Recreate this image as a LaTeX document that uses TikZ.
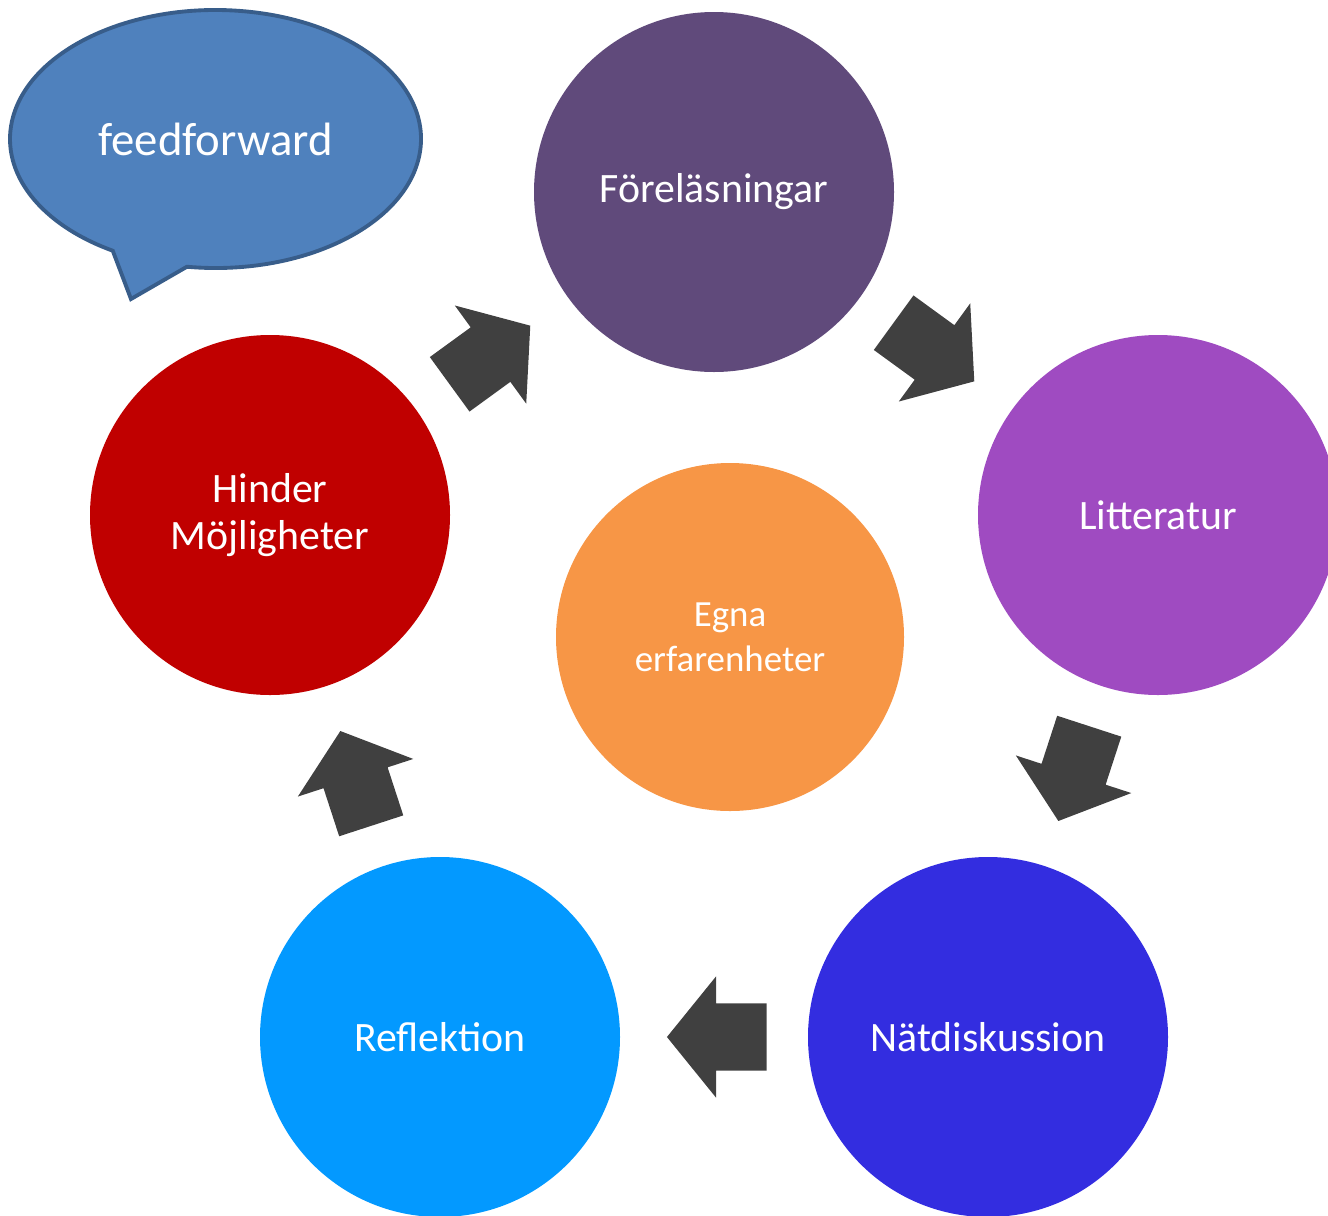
\documentclass[tikz,border=0pt]{standalone}
\usepackage{fontspec}
\setmainfont{Carlito}
\usetikzlibrary{shapes.arrows}

\definecolor{forelColor}{HTML}{604A7B}
\definecolor{littColor}{HTML}{9F4BC1}
\definecolor{natColor}{HTML}{332DE0}
\definecolor{reflColor}{HTML}{0399FF}
\definecolor{hinderColor}{HTML}{C00000}
\definecolor{egnaColor}{HTML}{F79646}
\definecolor{arrowGray}{HTML}{404040}
\definecolor{bubbleFill}{HTML}{4F81BD}
\definecolor{bubbleLine}{HTML}{385D8A}

\begin{document}
\begin{tikzpicture}[
    % GLOBAL CFG
    font=\fontsize{11.9}{13.2}\selectfont,
    % Styles
    topic/.style={% For the five circles of the cycle
        circle,
        minimum size=3.6cm,
        inner sep=0pt,
        text=white,
        align=center,
        },
    core/.style={% For the circle in the middle
        topic,
        minimum size=3.48cm,
        font=\fontsize{10.5}{12.9}\selectfont,
        },
    turn/.style={% For the block arrows between two circles
        single arrow,
        fill=arrowGray,
        minimum height=0pt,
        minimum width=0pt,
        inner xsep=.355cm,
        inner ysep=.33cm,
        single arrow head extend=.27cm,
        single arrow tip angle=102,
        pos=.757, sloped, allow upside down, anchor=tip,
        },
    bubble/.style={% For the speech bubble
        fill=bubbleFill,
        draw=bubbleLine,
        line width=1.1pt,
        },
    ]

% Page size
    \useasboundingbox (0,0) rectangle (13.28,-12.15);
    \clip (0,0) rectangle (13.28,-12.15);

% Speech bubble
    \coordinate (bub) at (2.155,-1.39);
    \coordinate (bubtip) at (1.31,-2.99);
    \draw [bubble] (bub) ++(262:2.055 and 1.29)
        arc[start angle=262, end angle=600, x radius=2.055, y radius=1.29]
        -- (bubtip) -- cycle;
    \node [text=white, font=\fontsize{13.3}{15}\selectfont] (feed) at (bub) {feedforward};

% Circles of the cycle
    \node [topic, fill=forelColor] (forel) at (7.14,-1.92) {Föreläsningar};
    \node [topic, fill=littColor] (litt) at (11.58,-5.15) {Litteratur};
    \node [topic, fill=natColor] (nat) at (9.88,-10.37) {Nätdiskussion};
    \node [topic, fill=reflColor] (refl) at (4.40,-10.37) {Reflektion};
    \node [topic, fill=hinderColor] (hinder) at (2.70,-5.15) {Hinder\\Möjligheter};

% Middle circle
    \node [core, fill=egnaColor] (egna) at (7.30,-6.37) {Egna\\erfarenheter};

% Block arrows
    \path (hinder) -- node[turn] {} (forel);
    \path (forel) -- node[turn] {} (litt);
    \path (litt) -- node[turn] {} (nat);
    \path (nat) -- node[turn] {} (refl);
    \path (refl) -- node[turn] {} (hinder);

\end{tikzpicture}
\end{document}
